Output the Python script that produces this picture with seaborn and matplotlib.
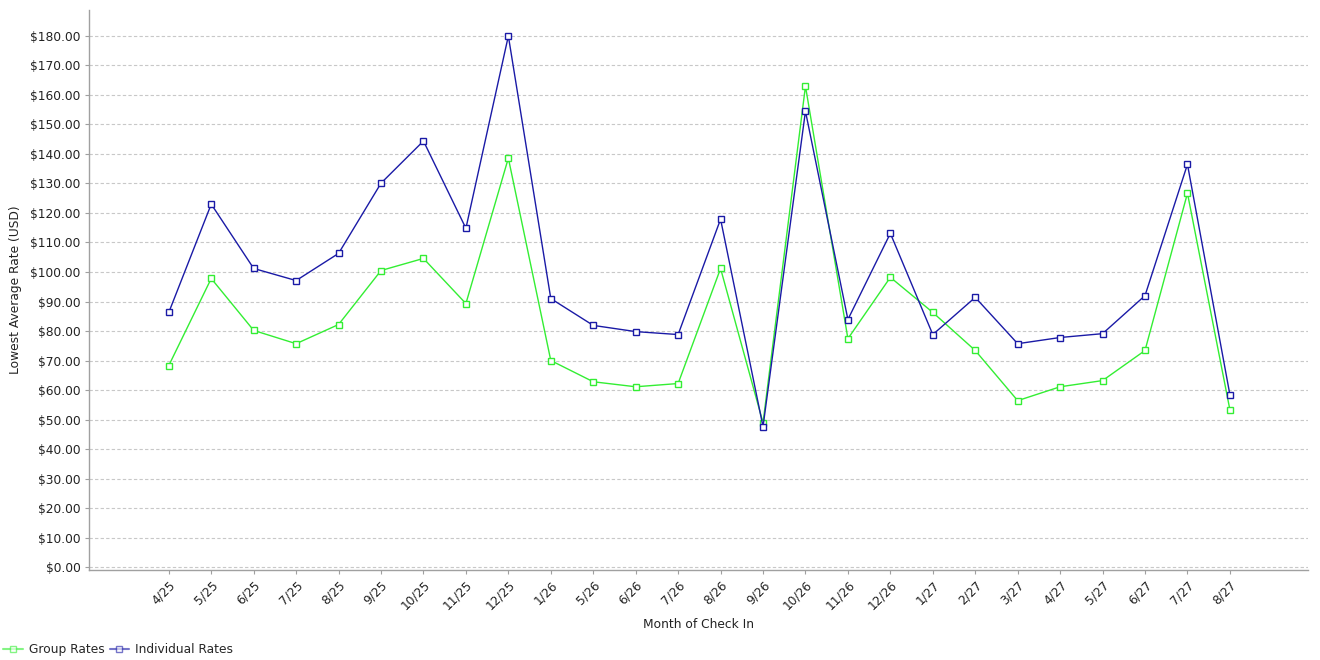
import matplotlib
matplotlib.use("Agg")
import matplotlib.pyplot as plt
import seaborn as sns
import pandas as pd
from matplotlib.ticker import FuncFormatter, MultipleLocator
from matplotlib.lines import Line2D

months = ["4/25", "5/25", "6/25", "7/25", "8/25", "9/25", "10/25", "11/25", "12/25",
          "1/26", "5/26", "6/26", "7/26", "8/26", "9/26", "10/26", "11/26", "12/26",
          "1/27", "2/27", "3/27", "4/27", "5/27", "6/27", "7/27", "8/27"]
group_rates = [68.3, 97.8, 80.2, 75.7, 82.2, 100.5, 104.6, 89.3, 138.6,
               70.0, 62.8, 61.1, 62.2, 101.2, 48.9, 163.0, 77.4, 98.2,
               86.3, 73.4, 56.4, 61.1, 63.2, 73.4, 126.7, 53.3]
individual_rates = [86.3, 123.0, 101.2, 97.1, 106.3, 130.1, 144.4, 114.8, 180.0,
                    91.0, 81.9, 79.8, 78.8, 117.9, 47.6, 154.5, 83.9, 113.1,
                    78.8, 91.4, 75.7, 77.8, 79.1, 92.0, 136.5, 58.4]
series_names = ["Group Rates", "Individual Rates"]
colors = ["#33ee33", "#1a1aa6"]

df = pd.concat([
    pd.DataFrame({"month": months, "idx": range(len(months)), "rate": group_rates, "series": series_names[0]}),
    pd.DataFrame({"month": months, "idx": range(len(months)), "rate": individual_rates, "series": series_names[1]}),
])

sns.set_theme(style="white")
plt.rcParams["font.family"] = ["DejaVu Sans"]

FS = 8.8
fig = plt.figure(figsize=(13.2, 6.6), dpi=100)
ax = fig.add_axes([89 / 1320, 90 / 660, (1308 - 89) / 1320, (570 - 10) / 660])

sns.lineplot(data=df, x="idx", y="rate", hue="series", palette=colors,
             marker="s", markersize=4.5, markerfacecolor="white", markeredgewidth=1.0,
             linewidth=1.0, ax=ax, legend=False, sort=False)
for line, c in zip(ax.get_lines(), colors):
    line.set_markeredgecolor(c)

ax.set_xlim(-1.88, len(months) - 1 + 1.84)
ax.set_ylim(-1.0, 188.8)
ax.yaxis.set_major_locator(MultipleLocator(10))
ax.yaxis.set_major_formatter(FuncFormatter(lambda v, p: f"${v:.2f}"))
ax.set_xticks(range(len(months)))
ax.set_xticklabels(months, rotation=45, ha="right", rotation_mode="anchor")

ax.grid(axis="y", color="#c8c8c8", linestyle=(0, (3, 2)), linewidth=0.8)
ax.grid(axis="x", visible=False)
for s in ["top", "right"]:
    ax.spines[s].set_visible(False)
for s in ["left", "bottom"]:
    ax.spines[s].set_color("#a0a0a0")
    ax.spines[s].set_linewidth(1.0)
ax.tick_params(axis="both", which="major", length=3, width=0.8, color="#a0a0a0",
               labelsize=FS, labelcolor="#222222", bottom=True, left=True, pad=3)

ax.set_xlabel("Month of Check In", fontsize=FS, color="#222222", labelpad=4)
ax.set_ylabel("Lowest Average Rate (USD)", fontsize=FS, color="#222222", labelpad=6)

handles = [Line2D([0], [0], color=c, alpha=0.6, marker="s", markersize=4,
                  markerfacecolor="white", markeredgecolor=c, linewidth=1.5)
           for c in colors]
fig.legend(handles, series_names, loc="lower left", bbox_to_anchor=(-0.003, -0.005),
           ncol=2, frameon=False, fontsize=FS, handlelength=1.6, handletextpad=0.5,
           columnspacing=0.4, borderaxespad=0.2)

fig.savefig("out.png", dpi=100)
